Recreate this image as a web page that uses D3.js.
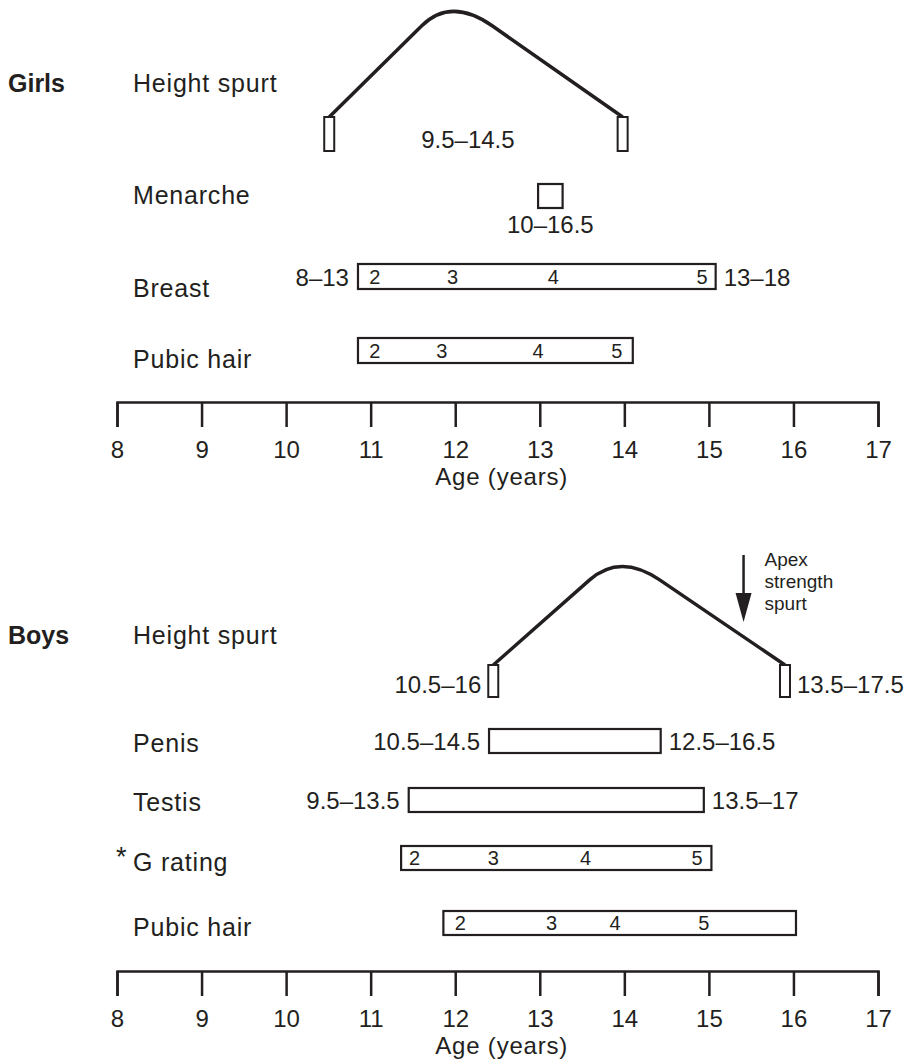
<!DOCTYPE html>
<html>
<head>
<meta charset="utf-8">
<script src="https://cdn.jsdelivr.net/npm/d3@7"></script>
<style>
  body { margin: 0; background: #fff; }
  text { font-family: 'Liberation Sans', Arial, Helvetica, sans-serif; fill: #231f20; }
</style>
</head>
<body>
<div id="chart"></div>
<script>
// ages on the axis
const ageTicks = [8, 9, 10, 11, 12, 13, 14, 15, 16, 17]
const stageLabels = ['2', '3', '4', '5']

// girls
const girlsRows = ['Height spurt', 'Menarche', 'Breast', 'Pubic hair']
const girlsSpurtAges = [10.51, 11.95, 13.98] // onset, apex, end
const girlsSpurtRange = '9.5–14.5'
const girlsSpurtLabelAge = 12.15
const menarcheAges = [12.98, 13.27]
const menarcheRange = '10–16.5'
const girlsBarStart = [10.85, 10.85]
const girlsBarEnd = [15.08, 14.1]
const girlsStageAges = [
  [11.05, 11.97, 13.16, 14.92],
  [11.05, 11.84, 12.98, 13.91]
]
const girlsOnsetLabels = ['8–13', '']
const girlsEndLabels = ['13–18', '']

// boys
const boysRows = ['Height spurt', 'Penis', 'Testis', 'G rating', 'Pubic hair']
const boysSpurtAges = [12.45, 13.95, 15.9]
const boysSpurtLabels = ['10.5–16', '13.5–17.5']
const apexStrengthAge = 15.41
const apexStrengthText = ['Apex', 'strength', 'spurt']
const boysBarStart = [12.4, 11.45, 11.36, 11.86]
const boysBarEnd = [14.43, 14.94, 15.03, 16.03]
const boysOnsetLabels = ['10.5–14.5', '9.5–13.5', '', '']
const boysEndLabels = ['12.5–16.5', '13.5–17', '', '']
const boysStageAges = [
  null,
  null,
  [11.52, 12.45, 13.54, 14.86],
  [12.06, 13.14, 13.89, 14.94]
]

const width = 910
const height = 1064
const ink = '#231f20'

const svg = d3
  .select('#chart')
  .append('svg')
  .attr('width', width)
  .attr('height', height)

const x = d3.scaleLinear().domain([8, 17]).range([117, 878])

function drawAxis(y) {
  const g = svg
    .append('g')
    .attr('transform', `translate(0,${y})`)
    .call(
      d3
        .axisBottom(x)
        .tickValues(ageTicks)
        .tickSizeInner(25)
        .tickSizeOuter(25)
        .tickFormat(d3.format('d'))
    )
  g.select('.domain').attr('stroke', ink).attr('stroke-width', 2.5)
  g.selectAll('.tick line').attr('stroke', ink).attr('stroke-width', 2.5)
  g.selectAll('.tick text')
    .attr('y', 56)
    .attr('dy', 0)
    .attr('font-size', 24)
    .attr('font-family', "'Liberation Sans', Arial, sans-serif")
    .attr('fill', ink)
  g.append('text')
    .attr('x', x(12.55))
    .attr('y', 83)
    .attr('text-anchor', 'middle')
    .attr('font-size', 24)
    .attr('letter-spacing', 0.8)
    .attr('font-family', "'Liberation Sans', Arial, sans-serif")
    .attr('fill', ink)
    .text('Age (years)')
}

function spurtCurve(ages, footY, topY) {
  const [a0, apex, a1] = ages
  const x0 = x(a0), xc = x(apex), x1 = x(a1)
  const t = 0.76
  const p = d3.path()
  p.moveTo(x0, footY)
  p.lineTo(x0 + (xc - x0) * t, footY + (topY - footY) * t)
  p.quadraticCurveTo(xc, topY, x1 + (xc - x1) * t, footY + (topY - footY) * t)
  p.lineTo(x1, footY)
  svg
    .append('path')
    .attr('d', p.toString())
    .attr('fill', 'none')
    .attr('stroke', ink)
    .attr('stroke-width', 3.5)
    .attr('stroke-linejoin', 'round')
}

function footBoxes(ages, top, h) {
  svg
    .selectAll(null)
    .data([ages[0], ages[2]])
    .enter()
    .append('rect')
    .attr('x', d => x(d) - 5)
    .attr('y', top)
    .attr('width', 10)
    .attr('height', h)
    .attr('fill', '#fff')
    .attr('stroke', ink)
    .attr('stroke-width', 2)
}

function rowLabel(text, y) {
  svg
    .append('text')
    .attr('x', 133)
    .attr('y', y)
    .attr('font-size', 25)
    .attr('letter-spacing', 0.8)
    .text(text)
}

function rangeLabel(text, xPos, y, anchor) {
  svg
    .append('text')
    .attr('x', xPos)
    .attr('y', y)
    .attr('text-anchor', anchor)
    .attr('font-size', 24)
    .text(text)
}

function bars(starts, ends, stages, onset, end, tops, h) {
  starts.forEach((s, i) => {
    const top = tops[i]
    svg
      .append('rect')
      .attr('x', x(s))
      .attr('y', top)
      .attr('width', x(ends[i]) - x(s))
      .attr('height', h)
      .attr('fill', '#fff')
      .attr('stroke', ink)
      .attr('stroke-width', 2.2)
    if (onset[i]) rangeLabel(onset[i], x(s) - 9, top + h / 2 + 9, 'end')
    if (end[i]) rangeLabel(end[i], x(ends[i]) + 8, top + h / 2 + 9, 'start')
    if (stages[i]) {
      svg
        .selectAll(null)
        .data(stages[i])
        .enter()
        .append('text')
        .attr('x', d => x(d))
        .attr('y', top + h / 2 + 7)
        .attr('text-anchor', 'middle')
        .attr('font-size', 20)
        .text((d, j) => stageLabels[j])
    }
  })
}

// ---- Girls ----
svg
  .append('text')
  .attr('x', 8)
  .attr('y', 92)
  .attr('font-size', 25)
  .attr('font-weight', 'bold')
  .text('Girls')

rowLabel(girlsRows[0], 92)
spurtCurve(girlsSpurtAges, 117, -3)
footBoxes(girlsSpurtAges, 117, 34)
rangeLabel(girlsSpurtRange, x(girlsSpurtLabelAge), 148, 'middle')

rowLabel(girlsRows[1], 204)
svg
  .append('rect')
  .attr('x', x(menarcheAges[0]))
  .attr('y', 184)
  .attr('width', x(menarcheAges[1]) - x(menarcheAges[0]))
  .attr('height', 24)
  .attr('fill', '#fff')
  .attr('stroke', ink)
  .attr('stroke-width', 2.2)
rangeLabel(menarcheRange, x(d3.mean(menarcheAges)), 233, 'middle')

rowLabel(girlsRows[2], 297)
rowLabel(girlsRows[3], 368)
bars(girlsBarStart, girlsBarEnd, girlsStageAges, girlsOnsetLabels, girlsEndLabels, [264, 338], 25)

drawAxis(402)

// ---- Boys ----
svg
  .append('text')
  .attr('x', 8)
  .attr('y', 644)
  .attr('font-size', 25)
  .attr('font-weight', 'bold')
  .text('Boys')

rowLabel(boysRows[0], 644)
spurtCurve(boysSpurtAges, 665, 553)
footBoxes(boysSpurtAges, 665, 32)
rangeLabel(boysSpurtLabels[0], x(boysSpurtAges[0]) - 12, 693, 'end')
rangeLabel(boysSpurtLabels[1], x(boysSpurtAges[2]) + 12, 693, 'start')

// apex strength spurt arrow
const ax = x(apexStrengthAge)
svg
  .append('line')
  .attr('x1', ax)
  .attr('x2', ax)
  .attr('y1', 555)
  .attr('y2', 600)
  .attr('stroke', ink)
  .attr('stroke-width', 2.5)
svg
  .append('path')
  .attr('d', `M${ax - 8},593L${ax + 8},593L${ax},622Z`)
  .attr('fill', ink)
svg
  .selectAll(null)
  .data(apexStrengthText)
  .enter()
  .append('text')
  .attr('x', ax + 21)
  .attr('y', (d, i) => 566 + i * 22)
  .attr('font-size', 19)
  .text(d => d)

rowLabel(boysRows[1], 752)
rowLabel(boysRows[2], 811)
rowLabel(boysRows[3], 871)
svg
  .append('text')
  .attr('x', 116)
  .attr('y', 866)
  .attr('font-size', 27)
  .text('*')
rowLabel(boysRows[4], 936)
bars(
  boysBarStart,
  boysBarEnd,
  boysStageAges,
  boysOnsetLabels,
  boysEndLabels,
  [729, 788, 846, 911],
  24
)

drawAxis(971)
</script>
</body>
</html>
